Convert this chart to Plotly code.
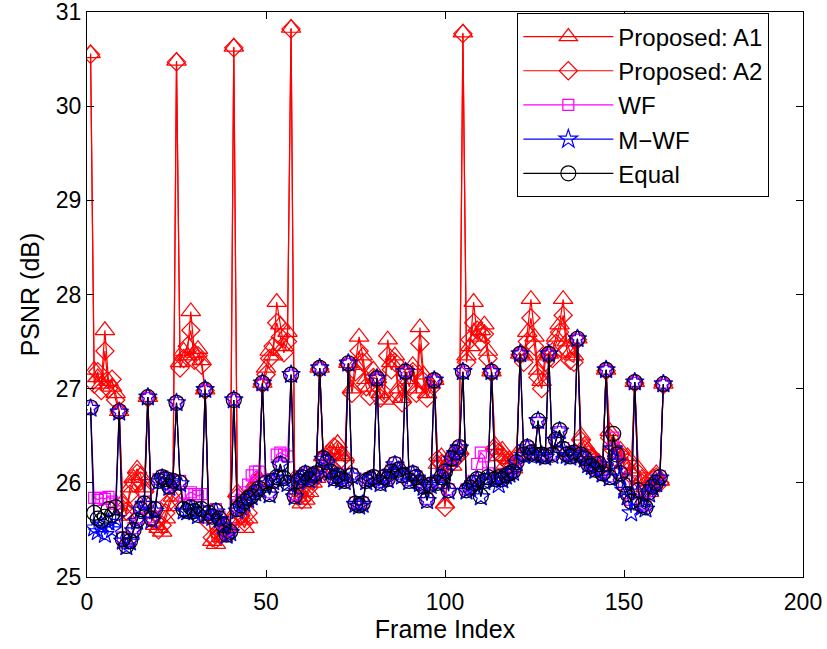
import plotly.graph_objects as go

frames = list(range(1, 162))

equal = [
    26.80, 25.68, 25.62, 25.60, 25.64, 25.72, 25.66, 25.74,
    26.76, 25.40, 25.33, 25.38, 25.50, 25.60, 25.72, 25.78,
    26.91, 25.62, 25.72, 26.02, 26.06, 26.04, 25.96, 26.02,
    26.85, 26.00, 25.72, 25.70, 25.74, 25.70, 25.66, 25.72,
    26.99, 25.68, 25.64, 25.70, 25.62, 25.55, 25.45, 25.48,
    26.88, 25.72, 25.76, 25.80, 25.84, 25.86, 25.90, 25.94,
    27.06, 26.00, 25.88, 26.02, 26.06, 26.20, 26.05, 26.00,
    27.15, 25.86, 26.02, 26.06, 26.10, 26.04, 26.08, 26.10,
    27.22, 26.26, 26.22, 26.12, 26.05, 26.08, 26.04, 26.02,
    27.27, 26.08, 25.78, 25.76, 25.78, 26.02, 26.04, 26.06,
    27.11, 26.00, 26.06, 26.04, 26.12, 26.20, 26.14, 26.08,
    27.18, 26.02, 26.10, 26.06, 26.00, 25.96, 25.82, 25.98,
    27.09, 26.00, 26.06, 26.12, 25.92, 26.26, 26.32, 26.38,
    27.18, 25.92, 25.95, 26.00, 26.04, 25.86, 26.02, 26.06,
    27.18, 26.04, 26.06, 26.04, 26.08, 26.10, 26.12, 26.22,
    27.37, 26.30, 26.38, 26.32, 26.30, 26.66, 26.30, 26.28,
    27.37, 26.30, 26.46, 26.56, 26.36, 26.30, 26.28, 26.32,
    27.53, 26.30, 26.26, 26.20, 26.18, 26.14, 26.20, 26.10,
    27.20, 26.06, 26.52, 26.30, 26.10, 25.98, 25.88, 25.80,
    27.07, 25.92, 25.76, 25.74, 25.90, 25.96, 26.00, 26.06,
    27.05,
]

wf = [
    26.80, 25.84, 25.82, 25.84, 25.83, 25.85, 25.80, 25.78,
    26.76, 25.42, 25.36, 25.40, 25.52, 25.62, 25.74, 25.80,
    26.90, 25.64, 25.74, 26.04, 26.07, 26.05, 25.98, 26.03,
    26.85, 26.02, 25.78, 25.88, 25.90, 25.88, 25.86, 25.88,
    26.98, 25.70, 25.66, 25.72, 25.64, 25.57, 25.47, 25.50,
    26.88, 25.76, 25.82, 25.90, 25.98, 26.08, 26.12, 26.12,
    27.05, 26.02, 25.90, 26.04, 26.30, 26.32, 26.30, 26.28,
    27.14, 25.88, 26.03, 26.07, 26.10, 26.05, 26.09, 26.11,
    27.22, 26.27, 26.23, 26.13, 26.06, 26.09, 26.05, 26.03,
    27.26, 26.09, 25.79, 25.77, 25.79, 26.03, 26.05, 26.07,
    27.11, 26.01, 26.07, 26.05, 26.13, 26.21, 26.15, 26.09,
    27.18, 26.03, 26.11, 26.07, 26.01, 25.97, 25.83, 25.99,
    27.09, 26.01, 26.07, 26.13, 25.93, 26.27, 26.33, 26.38,
    27.18, 25.93, 25.96, 26.02, 26.20, 26.32, 26.28, 26.10,
    27.17, 26.05, 26.07, 26.05, 26.09, 26.11, 26.13, 26.22,
    27.36, 26.31, 26.38, 26.33, 26.31, 26.64, 26.31, 26.29,
    27.36, 26.31, 26.45, 26.54, 26.37, 26.31, 26.29, 26.33,
    27.52, 26.31, 26.27, 26.21, 26.19, 26.15, 26.21, 26.11,
    27.19, 26.07, 26.48, 26.31, 26.11, 25.99, 25.89, 25.82,
    27.06, 25.93, 25.78, 25.76, 25.91, 25.97, 26.01, 26.07,
    27.04,
]

mwf = [
    26.79, 25.52, 25.48, 25.55, 25.45, 25.58, 25.50, 25.62,
    26.75, 25.38, 25.32, 25.37, 25.49, 25.59, 25.71, 25.77,
    26.91, 25.60, 25.70, 26.01, 26.05, 26.03, 25.95, 26.01,
    26.85, 25.99, 25.70, 25.69, 25.72, 25.69, 25.65, 25.71,
    26.99, 25.67, 25.63, 25.69, 25.61, 25.54, 25.44, 25.47,
    26.88, 25.70, 25.74, 25.78, 25.82, 25.85, 25.89, 25.93,
    27.06, 25.99, 25.87, 26.01, 26.05, 26.19, 26.04, 25.99,
    27.15, 25.85, 26.01, 26.05, 26.09, 26.03, 26.07, 26.09,
    27.22, 26.25, 26.21, 26.11, 26.04, 26.07, 26.03, 26.01,
    27.27, 26.07, 25.77, 25.75, 25.77, 26.01, 26.03, 26.05,
    27.11, 25.99, 26.05, 26.03, 26.11, 26.19, 26.13, 26.07,
    27.18, 26.01, 26.09, 26.05, 25.99, 25.95, 25.81, 25.97,
    27.09, 25.99, 26.05, 26.11, 25.91, 26.25, 26.31, 26.37,
    27.18, 25.91, 25.94, 25.99, 26.03, 25.85, 26.01, 26.05,
    27.18, 26.03, 25.98, 26.03, 26.07, 26.09, 26.11, 26.21,
    27.37, 26.29, 26.37, 26.31, 26.29, 26.66, 26.29, 26.27,
    27.37, 26.29, 26.45, 26.55, 26.35, 26.29, 26.27, 26.31,
    27.53, 26.29, 26.25, 26.19, 26.17, 26.13, 26.19, 26.09,
    27.20, 26.05, 26.36, 26.22, 26.06, 25.92, 25.85, 25.68,
    27.07, 25.90, 25.74, 25.72, 25.88, 25.95, 25.99, 26.05,
    27.05,
]

a1 = [
    30.56, 27.20, 27.12, 27.05, 27.62, 27.08, 27.02, 26.95,
    26.76, 25.80, 25.65, 25.95, 26.05, 26.15, 26.08, 25.95,
    26.91, 25.68, 25.55, 25.52, 25.48, 25.62, 25.75, 25.85,
    30.48, 27.28, 27.40, 27.35, 27.82, 27.38, 27.42, 27.30,
    26.99, 25.62, 25.38, 25.35, 25.50, 25.42, 25.55, 25.62,
    30.63, 25.90, 25.60, 25.52, 25.62, 25.90, 26.00, 26.05,
    27.06, 27.22, 27.40, 27.35, 27.92, 27.68, 27.45, 27.60,
    30.83, 26.05, 25.85, 25.78, 25.82, 25.90, 26.00, 26.05,
    27.22, 26.28, 26.10, 26.35, 26.30, 26.42, 26.30, 26.28,
    27.27, 27.00, 27.25, 27.55, 27.35, 27.10, 27.02, 27.20,
    27.11, 26.95, 26.88, 27.52, 27.28, 27.35, 27.00, 26.90,
    27.18, 27.10, 27.25, 27.00, 27.65, 27.15, 26.95, 27.05,
    27.09, 26.20, 26.28, 25.78, 26.22, 26.18, 26.30, 26.35,
    30.78, 27.35, 27.45, 27.92, 27.55, 27.62, 27.68, 27.40,
    27.18, 26.40, 26.28, 26.35, 26.20, 26.25, 26.15, 26.30,
    27.37, 27.35, 27.60, 27.95, 27.55, 27.20, 27.08, 27.35,
    27.37, 27.40, 27.55, 27.68, 27.95, 27.50, 27.38, 27.35,
    27.53, 26.50, 26.40, 26.35, 26.28, 26.20, 26.22, 26.15,
    27.20, 26.55, 26.40, 26.30, 26.35, 26.20, 26.28, 26.12,
    27.07, 26.15, 26.05, 25.95, 25.90, 26.00, 26.10, 26.02,
    27.05,
]

a2 = [
    30.55, 27.05, 27.18, 26.98, 27.40, 27.00, 27.10, 26.88,
    26.76, 25.72, 25.70, 25.88, 26.00, 26.10, 26.02, 25.90,
    26.90, 25.62, 25.60, 25.50, 25.55, 25.68, 25.80, 25.90,
    30.47, 27.22, 27.32, 27.45, 27.62, 27.30, 27.35, 27.25,
    26.98, 25.58, 25.42, 25.40, 25.45, 25.48, 25.50, 25.58,
    30.62, 25.85, 25.65, 25.58, 25.68, 25.85, 25.95, 26.02,
    27.05, 27.15, 27.32, 27.45, 27.70, 27.55, 27.38, 27.50,
    30.82, 26.00, 25.90, 25.82, 25.86, 25.95, 26.02, 26.08,
    27.21, 26.25, 26.15, 26.30, 26.38, 26.35, 26.25, 26.22,
    27.26, 26.95, 27.18, 27.40, 27.28, 27.02, 26.92, 27.12,
    27.10, 26.90, 26.95, 27.35, 27.20, 27.28, 26.95, 26.85,
    27.17, 27.02, 27.18, 26.95, 27.48, 27.08, 26.90, 27.00,
    27.08, 26.25, 26.20, 25.74, 26.18, 26.22, 26.26, 26.30,
    30.77, 27.28, 27.52, 27.70, 27.62, 27.50, 27.58, 27.32,
    27.17, 26.35, 26.32, 26.28, 26.24, 26.20, 26.18, 26.26,
    27.36, 27.28, 27.50, 27.75, 27.45, 27.12, 27.00, 27.28,
    27.36, 27.32, 27.48, 27.60, 27.78, 27.42, 27.30, 27.28,
    27.52, 26.45, 26.35, 26.30, 26.25, 26.24, 26.18, 26.12,
    27.19, 26.48, 26.35, 26.25, 26.30, 26.18, 26.22, 26.08,
    27.06, 26.10, 26.00, 25.92, 25.95, 26.05, 26.06, 26.00,
    27.04,
]

series = [
    ("Proposed: A1", a1, "#ff0000", "triangle-up-open", 17),
    ("Proposed: A2", a2, "#ff0000", "diamond-open", 14),
    ("WF", wf, "#ff00ff", "square-open", 11),
    ("M\u2212WF", mwf, "#0000ff", "star-open", 14),
    ("Equal", equal, "#000000", "circle-open", 15),
]

FONT = "Liberation Sans, Arial, Helvetica, sans-serif"

fig = go.Figure()
for name, vals, color, sym, size in series:
    fig.add_trace(go.Scatter(
        x=frames, y=vals, name=name, mode="lines+markers",
        line=dict(color=color, width=1.2),
        marker=dict(symbol=sym, size=size, color=color, line=dict(width=1.2, color=color)),
    ))

axis_common = dict(
    showline=True, linecolor="black", linewidth=1.3, mirror="ticks",
    ticks="inside", ticklen=7, tickcolor="black", showgrid=False, zeroline=False,
    automargin=False, ticklabeloverflow="allow",
    tickfont=dict(family=FONT, size=23, color="black"),
)

fig.update_layout(
    width=827, height=649,
    margin=dict(l=87, r=24, t=12, b=72),
    paper_bgcolor="white", plot_bgcolor="white",
    font=dict(family=FONT, color="black"),
    xaxis=dict(range=[0, 200], tickvals=[0, 50, 100, 150, 200], ticklabelstandoff=4,
               title=dict(text="Frame Index", font=dict(family=FONT, size=25), standoff=4),
               **axis_common),
    yaxis=dict(range=[25, 31], tickvals=[25, 26, 27, 28, 29, 30, 31],
               title=dict(text="PSNR (dB)", font=dict(family=FONT, size=25), standoff=8),
               **axis_common),
    legend=dict(x=0.6006, y=0.998, xanchor="left", yanchor="top",
                bgcolor="white", bordercolor="black", borderwidth=1.3,
                font=dict(family=FONT, size=24, color="black"),
                itemwidth=90, tracegroupgap=0),
    showlegend=True,
)

fig.write_html("out.html")
